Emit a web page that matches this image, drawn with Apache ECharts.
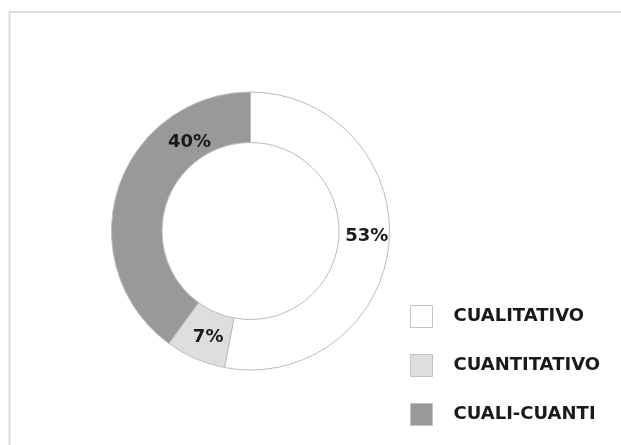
<!DOCTYPE html>
<html>
<head>
<meta charset="utf-8">
<script src="https://cdn.jsdelivr.net/npm/echarts@6/dist/echarts.min.js"></script>
<style>
html,body{margin:0;padding:0;background:#fff;}
#chart{width:621px;height:445px;}
</style>
</head>
<body>
<div id="chart"></div>
<script>
const categories = ['CUALITATIVO', 'CUANTITATIVO', 'CUALI-CUANTI'];
const values = [53, 7, 40];
const colors = ['#ffffff', '#dedede', '#999999'];
const labelOffsets = [[0, -6], [4, -1], [50, -53]];

const chart = echarts.init(document.getElementById('chart'), null, {renderer: 'canvas'});
const font = 'DejaVu Sans';
chart.setOption({
  backgroundColor: '#ffffff',
  animation: false,
  graphic: [{
    type: 'rect',
    shape: {x: 9.5, y: 12, width: 800, height: 600},
    style: {fill: 'none', stroke: '#dcdcdc', lineWidth: 2},
    silent: true
  }],
  legend: {
    orient: 'vertical',
    left: 405,
    top: 300,
    itemWidth: 22,
    itemHeight: 22,
    itemGap: 26,
    icon: 'rect',
    data: categories,
    itemStyle: {borderColor: '#c4c4c4', borderWidth: 1},
    textStyle: {
      fontFamily: font, fontWeight: 'bold', fontSize: 18, color: '#1a1a1a',
      padding: [0, 0, 0, 16]
    }
  },
  series: [{
    type: 'pie',
    center: [250.5, 231],
    radius: [88.5, 139],
    startAngle: 90,
    clockwise: true,
    label: {
      show: true,
      position: 'inside',
      formatter: '{d}%',
      fontFamily: font, fontWeight: 'bold', fontSize: 18, color: '#1a1a1a'
    },
    labelLine: {show: false},
    itemStyle: {borderColor: '#bdbdbd', borderWidth: 1},
    emphasis: {disabled: true},
    data: categories.map((c, i) => ({
      name: c,
      value: values[i],
      itemStyle: {color: colors[i]},
      label: {offset: labelOffsets[i]}
    }))
  }]
});
</script>
</body>
</html>
